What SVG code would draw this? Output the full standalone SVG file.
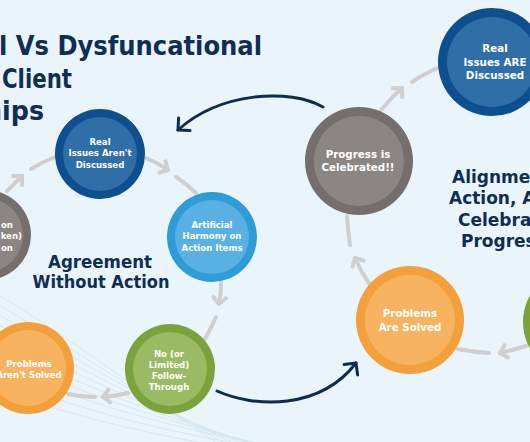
<svg xmlns="http://www.w3.org/2000/svg" width="530" height="442" viewBox="0 0 530 442">
<style>
.bg{fill:#EAF4FB}
.wave{fill:none;stroke:#D2E4F0;stroke-width:0.8}
.title{font-family:"DejaVu Sans","Liberation Sans",sans-serif;font-weight:bold;fill:#0F2D55}
.nt{font-family:"DejaVu Sans","Liberation Sans",sans-serif;font-weight:bold;fill:#FFFFFF;text-anchor:middle}
.sm{font-size:8.6px}
.lg{font-size:10.3px}
.conn{fill:none;stroke:#CFCFCF;stroke-width:4;stroke-linecap:round;stroke-linejoin:round}
.big{fill:none;stroke:#0F2B4F;stroke-width:3;stroke-linecap:round;stroke-linejoin:round}
.dbo{fill:#0D4F8F}.dbi{fill:#2F6EA7}
.lbo{fill:#2E9CD7}.lbi{fill:#58B1E2}
.gro{fill:#746F6D}.gri{fill:#8B8684}
.oro{fill:#F4A03A}.ori{fill:#F7B360}
.gno{fill:#7CA23B}.gni{fill:#9ABB63}
</style>
<rect class="bg" x="0" y="0" width="530" height="442"/>
<g id="background-waves">
<path class="wave" d="M-10,290 C60,330 140,392 230,452"/>
<path class="wave" d="M-10,300 C60,340 145,398 240,452"/>
<path class="wave" d="M-10,310 C62,350 150,404 252,452"/>
<path class="wave" d="M-10,320 C64,360 156,410 264,452"/>
<path class="wave" d="M-10,330 C66,370 162,416 276,452"/>
<path class="wave" d="M-10,340 C68,380 168,422 288,452"/>
<path class="wave" d="M-10,350 C70,390 176,428 300,452"/>
<path class="wave" d="M-10,362 C72,400 184,434 312,452"/>
<path class="wave" d="M-10,374 C74,410 190,440 322,456"/>
<path class="wave" d="M-10,386 C76,420 196,446 330,462"/>
</g>
<g id="title">
<text class="title" x="-1" y="55" font-size="26" textLength="263" lengthAdjust="spacingAndGlyphs">l Vs Dysfuncational</text>
<text class="title" x="2" y="88" font-size="26" textLength="70" lengthAdjust="spacingAndGlyphs">Client</text>
<text class="title" x="-16" y="120" font-size="26" textLength="60" lengthAdjust="spacingAndGlyphs">hips</text>
</g>
<g id="label-agreement">
<text class="title" x="100" y="268" font-size="17" text-anchor="middle" textLength="104" lengthAdjust="spacingAndGlyphs">Agreement</text>
<text class="title" x="101" y="288" font-size="17" text-anchor="middle" textLength="137" lengthAdjust="spacingAndGlyphs">Without Action</text>
</g>
<g id="label-alignment">
<text class="title" x="452" y="183" font-size="17">Alignme</text>
<text class="title" x="449" y="204" font-size="17">Action, A</text>
<text class="title" x="458" y="226" font-size="17">Celebrat</text>
<text class="title" x="461" y="247" font-size="17">Progres</text>
</g>
<g id="connectors">
<path class="conn" d="M7,191 L22,176"/>
<path class="conn" d="M13,176 L22,176 L22,185"/>
<path class="conn" d="M31,169 Q42,162 55,157"/>
<path class="conn" d="M146,158 Q158,163 168,170"/>
<path class="conn" d="M165.5,161.4 L168,170 L159.4,172.5"/>
<path class="conn" d="M176,177 Q187,184 196,193"/>
<path class="conn" d="M221,283 Q221,294 219,304"/>
<path class="conn" d="M225.9,298.3 L219,304 L213.3,297.1"/>
<path class="conn" d="M216,317 Q211,328 205,339"/>
<path class="conn" d="M128,393 Q116,396 103,397"/>
<path class="conn" d="M110.3,402.3 L103,397 L108.3,389.7"/>
<path class="conn" d="M95,397 Q82,397 68,394"/>
<path class="conn" d="M381,110 Q391,98 402,88"/>
<path class="conn" d="M393,88.2 L402,88 L402.2,97"/>
<path class="conn" d="M412,82 Q425,73 440,67"/>
<path class="conn" d="M526,346 Q513,350 500,353"/>
<path class="conn" d="M507.8,357.4 L500,353 L504.4,345.2"/>
<path class="conn" d="M489,353 Q473,352 458,349"/>
<path class="conn" d="M370,285 Q361,272 355,258"/>
<path class="conn" d="M352.5,266.7 L355,258 L363.7,260.5"/>
<path class="conn" d="M350,245 Q348,231 347,216"/>
<path class="big" d="M323,107 C290,88 220,92 178,130"/>
<path class="big" d="M190,130.6 L178,130 L178.6,118"/>
<path class="big" d="M217,391 C255,408 320,410 356,363"/>
<path class="big" d="M344.1,364.6 L356,363 L357.6,374.9"/>
</g>
<g id="node-real-issues-arent">
<circle class="dbo" cx="100" cy="154" r="45"/>
<circle class="dbi" cx="100" cy="154" r="37"/>
<text class="nt sm" x="100" y="145">Real</text>
<text class="nt sm" x="100" y="156.3">Issues Aren't</text>
<text class="nt sm" x="100" y="167.6">Discussed</text>
</g>
<g id="node-artificial-harmony">
<circle class="lbo" cx="212" cy="237" r="45"/>
<circle class="lbi" cx="212" cy="237" r="37"/>
<text class="nt sm" x="212" y="227.5">Artificial</text>
<text class="nt sm" x="212" y="239">Harmony on</text>
<text class="nt sm" x="212" y="250.5">Action Items</text>
</g>
<g id="node-gray-left">
<circle class="gro" cx="-14" cy="235" r="45"/>
<circle class="gri" cx="-14" cy="235" r="37"/>
<text class="nt sm" x="13" y="227.5" text-anchor="end" style="text-anchor:end">on</text>
<text class="nt sm" x="22" y="239" style="text-anchor:end">ken)</text>
<text class="nt sm" x="13" y="250.5" style="text-anchor:end">on</text>
</g>
<g id="node-problems-arent-solved">
<circle class="oro" cx="28" cy="368" r="46"/>
<circle class="ori" cx="28" cy="368" r="38"/>
<text class="nt sm" x="29" y="366.5">Problems</text>
<text class="nt sm" x="29" y="377.5">Aren't Solved</text>
</g>
<g id="node-no-follow-through">
<circle class="gno" cx="170" cy="369" r="45"/>
<circle class="gni" cx="170" cy="369" r="37"/>
<text class="nt sm" x="169" y="356.5">No (or</text>
<text class="nt sm" x="169" y="367.8">Limited)</text>
<text class="nt sm" x="169" y="379">Follow-</text>
<text class="nt sm" x="169" y="390.3">Through</text>
</g>
<g id="node-progress-celebrated">
<circle class="gro" cx="359" cy="161" r="54"/>
<circle class="gri" cx="359" cy="161" r="45"/>
<text class="nt lg" x="358" y="157.5">Progress is</text>
<text class="nt lg" x="358" y="171">Celebrated!!</text>
</g>
<g id="node-real-issues-are">
<circle class="dbo" cx="492" cy="62" r="54"/>
<circle class="dbi" cx="492" cy="62" r="45"/>
<text class="nt lg" x="495" y="52">Real</text>
<text class="nt lg" x="495" y="65.5">Issues ARE</text>
<text class="nt lg" x="495" y="79">Discussed</text>
</g>
<g id="node-problems-solved">
<circle class="oro" cx="410" cy="320" r="54"/>
<circle class="ori" cx="410" cy="320" r="45"/>
<text class="nt lg" x="410" y="317">Problems</text>
<text class="nt lg" x="410" y="331">Are Solved</text>
</g>
<g id="node-green-right">
<circle class="gno" cx="577" cy="322" r="54"/>
<circle class="gni" cx="577" cy="322" r="45"/>
</g>
</svg>
